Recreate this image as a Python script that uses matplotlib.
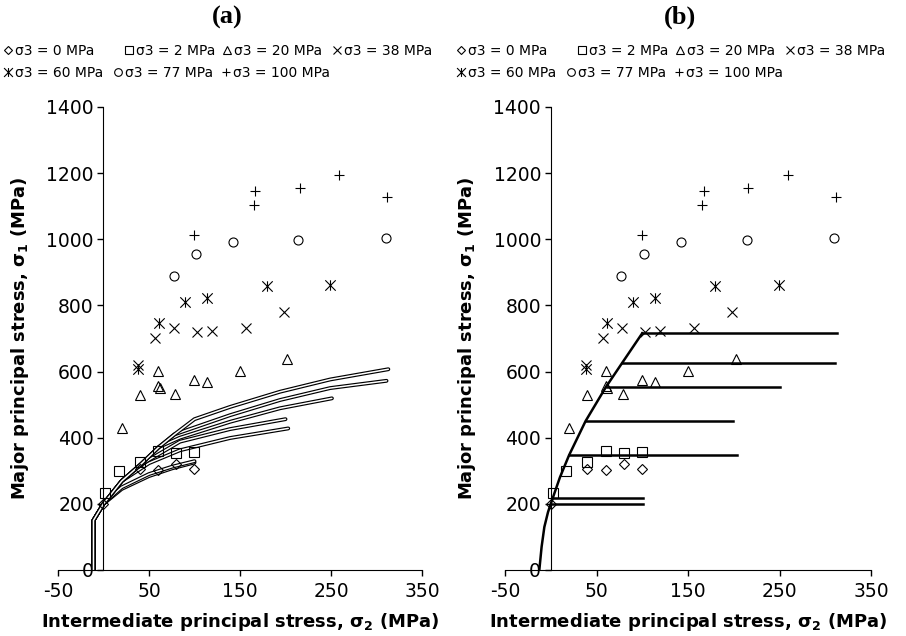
import matplotlib
matplotlib.use('Agg')
import matplotlib.pyplot as plt
from matplotlib.path import Path
from matplotlib.lines import Line2D

plt.rcParams['axes.unicode_minus'] = False

# test results, sigma2 and sigma1 in MPa, one list pair per sigma3 level
labels = ['σ3 = 0 MPa', 'σ3 = 2 MPa', 'σ3 = 20 MPa', 'σ3 = 38 MPa',
          'σ3 = 60 MPa', 'σ3 = 77 MPa', 'σ3 = 100 MPa']

s2_00 = [0, 40, 60, 80, 100]
s1_00 = [200, 305, 302, 320, 304]
s2_02 = [2, 17, 40, 60, 80, 100]
s1_02 = [232, 300, 327, 360, 354, 357]
s2_20 = [20, 40, 60, 60, 62, 79, 100, 114, 150, 202]
s1_20 = [430, 529, 602, 556, 549, 532, 575, 567, 601, 638]
s2_38 = [38, 57, 78, 103, 119, 157, 198]
s1_38 = [621, 700, 733, 720, 723, 731, 781]
s2_60 = [38, 61, 90, 114, 180, 249]
s1_60 = [609, 747, 811, 821, 859, 861]
s2_77 = [77, 102, 142, 214, 310]
s1_77 = [889, 954, 992, 998, 1005]
s2_100 = [100, 165, 167, 216, 259, 312]
s1_100 = [1012, 1103, 1147, 1155, 1195, 1129]

# (a) model curves
tail_x = [-11, -11, 0]
tail_y = [0, 150, 200]
ca_x = [
    [0, 20, 50, 75, 100],
    [2, 20, 50, 75, 100],
    [0, 20, 50, 84, 139, 203],
    [0, 20, 40, 84, 139, 200],
    [0, 20, 40, 61, 84, 139, 194, 251],
    [0, 20, 40, 61, 78, 139, 194, 249, 311],
    [0, 20, 40, 61, 78, 100, 139, 194, 249, 313],
]
ca_y = [
    [200, 245, 284, 307, 325],
    [206, 250, 290, 312, 329],
    [200, 269, 323, 362, 399, 428],
    [200, 269, 317, 388, 426, 456],
    [200, 269, 317, 372, 400, 448, 489, 519],
    [200, 269, 317, 372, 410, 468, 514, 550, 572],
    [200, 269, 317, 372, 410, 456, 493, 539, 576, 607],
]

# (b) envelope and plateaus
env_x = [-12.5, -10, -7, -3, 0, 5, 10, 20, 38, 60, 78, 100]
env_y = [0, 70, 130, 175, 200, 240, 280, 347, 450, 552, 626, 716]
plat_start = [0, 2.5, 20, 38.6, 62, 78, 100]
plat_end = [101, 101, 203, 199, 250, 311, 313]
plat_y = [201, 218, 349, 449, 553, 626, 716]

star = Path([(0, -0.75), (0, 0.75), (-0.75, -0.75), (0.75, 0.75),
             (-0.75, 0.75), (0.75, -0.75)],
            [Path.MOVETO, Path.LINETO] * 3)
markers = [('D', 4.6), ('s', 6.5), ('^', 6.5), ('x', 6.5), (star, 7.5),
           ('o', 6.5), ('+', 7.5)]
series = [(s2_00, s1_00), (s2_02, s1_02), (s2_20, s1_20), (s2_38, s1_38),
          (s2_60, s1_60), (s2_77, s1_77), (s2_100, s1_100)]

# legend entry positions (pixels from left of each panel, row)
leg_x = [3, 124, 222, 332, 3, 113, 221]
leg_row = [0, 0, 0, 0, 1, 1, 1]

fig = plt.figure(figsize=(9.06, 6.36), dpi=100)
ax_a = fig.add_axes([0.064, 0.1038, 0.4018, 0.728])
ax_b = fig.add_axes([0.5574, 0.1038, 0.404, 0.728])


def draw_points(ax):
    for (xs, ys), (m, ms) in zip(series, markers):
        ax.plot(xs, ys, ls='none', marker=m, ms=ms, mfc='none', mec='black',
                mew=0.8, zorder=3, clip_on=False)


def style_axes(ax):
    ax.set_xlim(-50, 350)
    ax.set_ylim(0, 1400)
    ax.spines['left'].set_position(('data', 0))
    ax.spines['top'].set_visible(False)
    ax.spines['right'].set_visible(False)
    ax.set_xticks([-50, 50, 150, 250, 350])
    ax.set_yticks(range(0, 1401, 200))
    ax.tick_params(direction='out', length=4, width=1, labelsize=13.5)
    ax.tick_params(axis='x', pad=5)
    ax.tick_params(axis='y', pad=3)
    ax.set_xlabel(r'Intermediate principal stress, $\mathbf{\sigma_2}$ (MPa)',
                  fontweight='bold', fontsize=13, labelpad=7)
    ax.set_ylabel(r'Major principal stress, $\mathbf{\sigma_1}$ (MPa)',
                  fontweight='bold', fontsize=13, labelpad=11)


# panel (a): double-line model curves
for xs, ys in zip(ca_x, ca_y):
    px = tail_x + xs
    py = tail_y + ys
    ax_a.plot(px, py, color='black', lw=2.8, solid_capstyle='round',
              solid_joinstyle='round', zorder=2)
    ax_a.plot(px, py, color='white', lw=1.1, solid_capstyle='round',
              solid_joinstyle='round', zorder=2)
draw_points(ax_a)
style_axes(ax_a)

# panel (b): envelope plus plateaus
ax_b.plot(env_x, env_y, color='black', lw=1.8, zorder=2)
for x0, x1, yv in zip(plat_start, plat_end, plat_y):
    ax_b.plot([x0, x1], [yv, yv], color='black', lw=1.8, zorder=2)
draw_points(ax_b)
style_axes(ax_b)

fig.text(227 / 906, 1 - 17 / 636, '(a)', family='Liberation Serif',
         fontweight='bold', fontsize=19, ha='center', va='center')
fig.text(680 / 906, 1 - 17 / 636, '(b)', family='Liberation Serif',
         fontweight='bold', fontsize=19, ha='center', va='center')

for off in [0, 453]:
    for (m, ms), lab, lx, row in zip(markers, labels, leg_x, leg_row):
        h = Line2D([], [], ls='none', marker=m, ms=ms * 0.85, mfc='none',
                   mec='black', mew=0.8)
        fig.legend([h], [lab], loc='center left',
                   bbox_to_anchor=((off + lx) / 906, 1 - (51 + 22 * row) / 636),
                   frameon=False, fontsize=10, handlelength=0.7,
                   handletextpad=0.15, borderaxespad=0, borderpad=0)

fig.savefig('out.png', dpi=100)
